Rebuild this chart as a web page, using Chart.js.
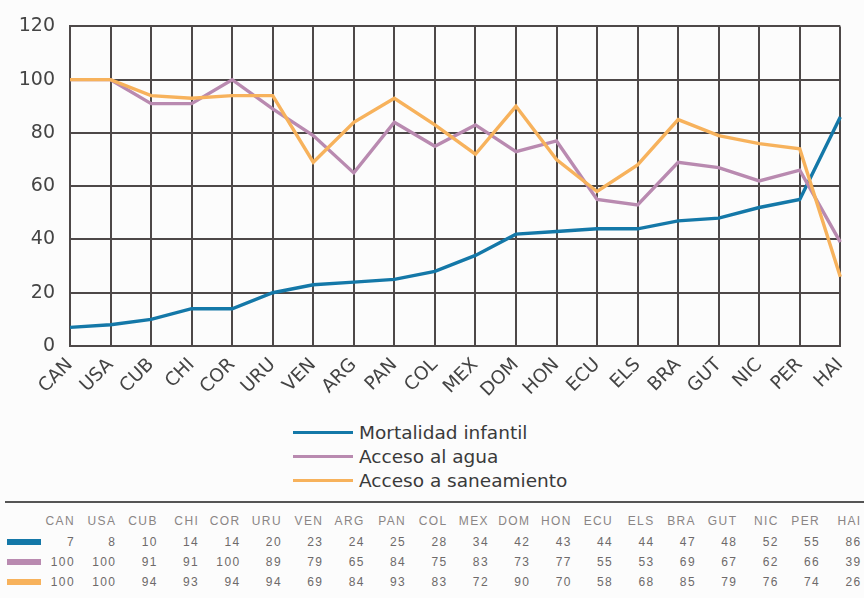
<!DOCTYPE html>
<html><head><meta charset="utf-8">
<script src="https://cdn.jsdelivr.net/npm/chart.js@4/dist/chart.umd.min.js"></script>
<style>
body{margin:0;background:#fcfcfc;font-family:"Liberation Sans",Arial,sans-serif;width:864px;height:598px;overflow:hidden;position:relative}
#wrap{position:absolute;left:0;top:0;width:864px;height:420px}
.leg{position:absolute;left:293px;height:24px;font-family:"DejaVu Sans",sans-serif;font-size:18.5px;color:#3a3a3a;display:flex;align-items:center}
.leg i{display:inline-block;width:60px;height:3px;margin-right:6px}
#rule{position:absolute;left:5px;right:0;top:501px;height:2px;background:#555}
.cell{position:absolute;font-size:12px;line-height:14px;text-align:right;width:50px;letter-spacing:1.4px}
.sw{position:absolute;left:7px;width:34px;height:6px}
</style></head><body>
<div id="wrap"><canvas id="c"></canvas></div>
<div id="legend"></div>
<div id="rule"></div>
<div id="table"></div>
<script>
const countries = ["CAN","USA","CUB","CHI","COR","URU","VEN","ARG","PAN","COL","MEX","DOM","HON","ECU","ELS","BRA","GUT","NIC","PER","HAI"];
const mortalidad = [7,8,10,14,14,20,23,24,25,28,34,42,43,44,44,47,48,52,55,86];
const agua = [100,100,91,91,100,89,79,65,84,75,83,73,77,55,53,69,67,62,66,39];
const saneamiento = [100,100,94,93,94,94,69,84,93,83,72,90,70,58,68,85,79,76,74,26];
const yTicks = [0,20,40,60,80,100,120];

const series = [
  {label:"Mortalidad infantil", data:mortalidad, color:"#1478a8", order:2},
  {label:"Acceso al agua", data:agua, color:"#b98ab0", order:1},
  {label:"Acceso a saneamiento", data:saneamiento, color:"#f7b25c", order:0}
];

const grid = "#4d4848";
new Chart(document.getElementById("c"), {
  type:"line",
  data:{labels:countries, datasets:series.map(s => ({label:s.label, data:s.data, borderColor:s.color, backgroundColor:s.color, borderWidth:3.4, pointRadius:0, tension:0, order:s.order}))},
  options:{
    responsive:true, maintainAspectRatio:false, animation:false,
    layout:{padding:{top:20, right:11, left:0, bottom:0}},
    plugins:{legend:{display:false}, tooltip:{enabled:false}},
    scales:{
      x:{offset:false, grid:{color:grid, lineWidth:2, drawTicks:false}, border:{color:grid, width:2},
         ticks:{color:"#444", font:{size:18.5, family:"DejaVu Sans"}, maxRotation:45, minRotation:45, padding:8, autoSkip:false},
         afterFit:s => { s.height = 74; }},
      y:{min:0, max:120, grid:{color:grid, lineWidth:2, drawTicks:false}, border:{color:grid, width:2},
         afterBuildTicks:s => { s.ticks = yTicks.map(v => ({value:v})); },
         ticks:{color:"#444", font:{size:19, family:"DejaVu Sans"}, padding:15},
         afterFit:s => { s.width = 70; }}
    }
  }
});

// legend
const leg = document.getElementById("legend");
series.forEach((s,i) => {
  const d = document.createElement("div"); d.className = "leg"; d.style.top = (420 + i*24) + "px";
  d.innerHTML = `<i style="background:${s.color}"></i>${s.label}`;
  leg.appendChild(d);
});

// data table
const tb = document.getElementById("table");
const colRight = i => 75 + i*41.4;
const put = (txt, x, y, color) => {
  const d = document.createElement("div"); d.className = "cell";
  d.style.left = (x-50) + "px"; d.style.top = y + "px"; d.style.color = color; d.textContent = txt;
  tb.appendChild(d);
};
countries.forEach((c,i) => put(c, colRight(i), 514, "#8a8585"));
series.forEach((s,r) => {
  const y = 535 + r*20;
  const sw = document.createElement("div"); sw.className = "sw"; sw.style.top = (y+4) + "px"; sw.style.background = s.color;
  tb.appendChild(sw);
  s.data.forEach((v,i) => put(v, colRight(i), y, "#6e6a6a"));
});
</script>
</body></html>
